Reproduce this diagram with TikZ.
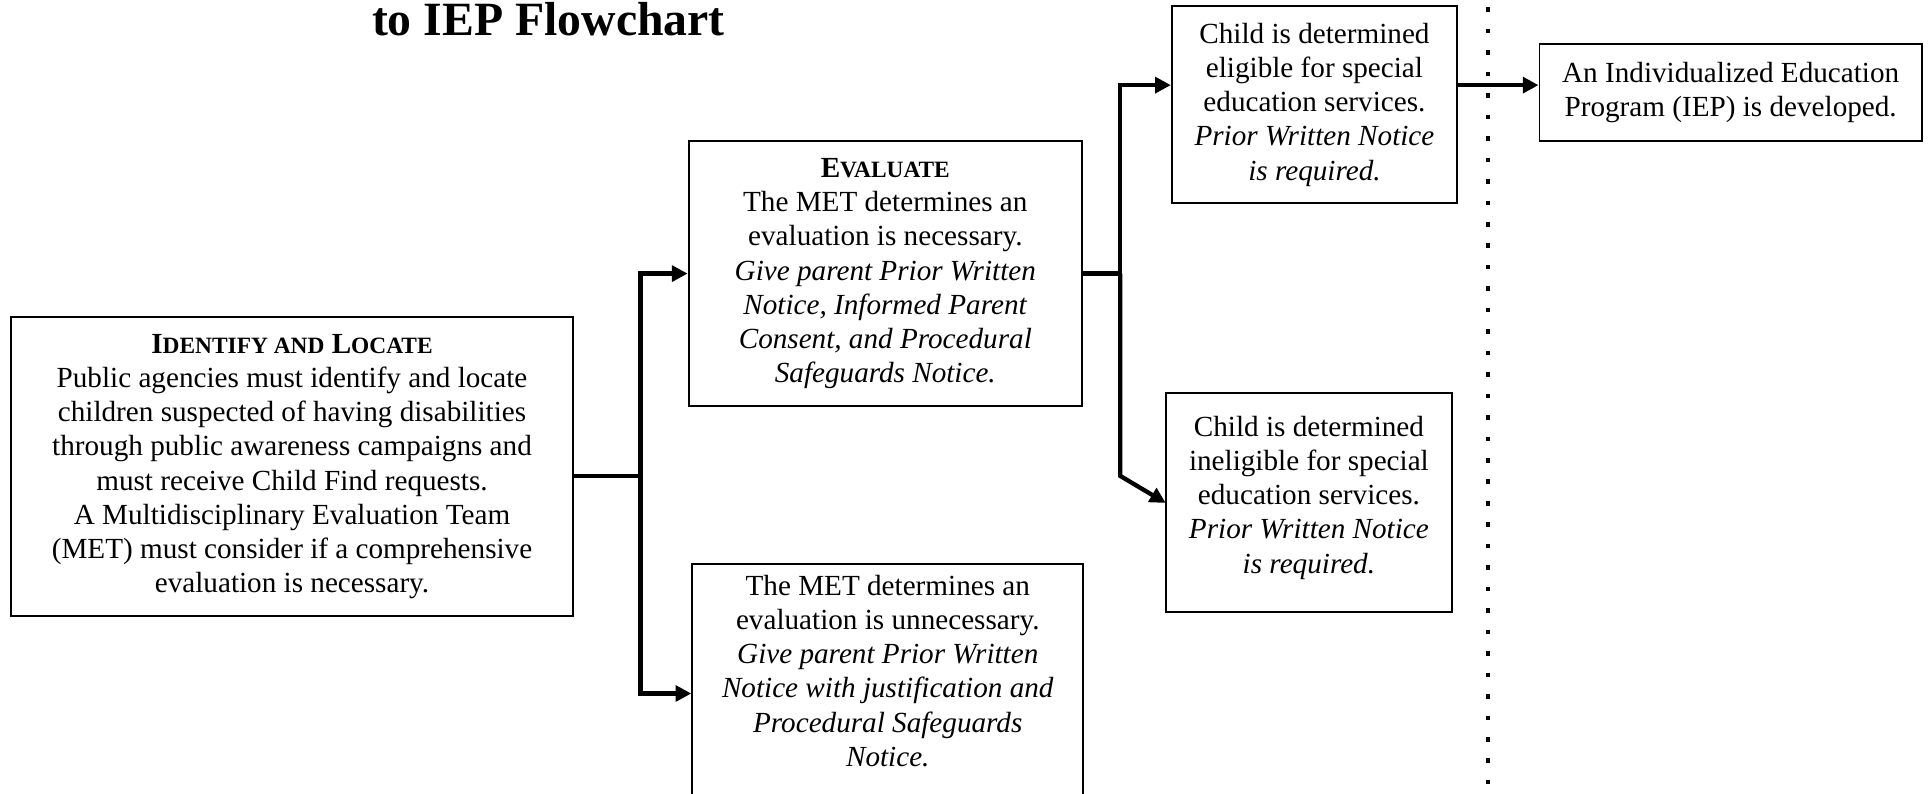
\documentclass[tikz,border=0pt]{standalone}
\usepackage{fontspec}
\setmainfont{Liberation Serif}
\usetikzlibrary{arrows.meta,calc}
\newcommand\fsc[1]{{\fontsize{9.7}{12}\selectfont #1}}
\begin{document}
\begin{tikzpicture}[x=0.51pt,y=-0.51pt,
  box/.style={draw,line width=0.8pt,align=center,inner sep=2pt,font=\fontsize{12.1}{14.2}\selectfont},
  conn/.style={line width=1.8pt},
  arr/.style={line width=1.8pt,-{Triangle[length=6.5pt,width=6.5pt]}},
  dotline/.style={line width=1.9pt,dash pattern=on 1.9pt off 7pt}]
\useasboundingbox (0,0) rectangle (1568,645);

\node[font=\fontsize{19.8}{22}\selectfont\bfseries,anchor=base] (title) at (446,29) {to IEP Flowchart};

\node[box,minimum width=233.1pt,minimum height=123.9pt] (id) at (237.5,379.5)
 {\textbf{I\fsc{DENTIFY AND} L\fsc{OCATE}}\\
  Public agencies must identify and locate\\
  children suspected of having disabilities\\
  through public awareness campaigns and\\
  must receive Child Find requests.\\
  A Multidisciplinary Evaluation Team\\
  (MET) must consider if a comprehensive\\
  evaluation is necessary.};

\node[box,minimum width=163.2pt,minimum height=109.7pt] (ev) at (720,222.5)
 {\textbf{E\fsc{VALUATE}}\\
  The MET determines an\\
  evaluation is necessary.\\
  \textit{Give parent Prior Written}\\
  \textit{Notice, Informed Parent}\\
  \textit{Consent, and Procedural}\\
  \textit{Safeguards Notice.}};

\node[box,anchor=north,minimum width=162.2pt,inner ysep=4.5pt,text depth=30pt] (un) at (722,458)
 {The MET determines an\\
  evaluation is unnecessary.\\
  \textit{Give parent Prior Written}\\
  \textit{Notice with justification and}\\
  \textit{Procedural Safeguards}\\
  \textit{Notice.}};

\node[box,minimum width=118.3pt,minimum height=81.6pt] (el) at (1069,85)
 {Child is determined\\
  eligible for special\\
  education services.\\
  \textit{Prior Written Notice}\\
  \textit{is required.}};

\node[box,minimum width=118.8pt,minimum height=90.8pt,text depth=7pt] (in) at (1064.5,409)
 {Child is determined\\
  ineligible for special\\
  education services.\\
  \textit{Prior Written Notice}\\
  \textit{is required.}};

\node[box,minimum width=158.6pt,minimum height=40.3pt] (iep) at (1407.5,75.5)
 {An Individualized Education\\
  Program (IEP) is developed.};

% connectors
\coordinate (j1) at (521,387);
\coordinate (unin) at ($(un.north west)+(0,106)$);
\draw[conn] (id.east |- j1) -- (j1);
\draw[arr] (j1) |- (ev.west);
\draw[arr] (j1) |- (unin);

\coordinate (j2) at (911,222.5);
\coordinate (j3) at (911,387);
\coordinate (elin) at ($(el.north west)+(0,65)$);
\coordinate (elout) at ($(el.north east)+(0,65)$);
\coordinate (inin) at (948,409);
\draw[conn] (ev.east) -- (j2);
\draw[arr] (j3) -- (j2) |- (elin);
\draw[arr] (j2) -- (j3) -- (inin);
\draw[arr] (elout) -- (iep.west |- elout);

% dotted divider
\coordinate (dtop) at (1210,6);
\coordinate (dbot) at (1210,645);
\draw[dotline] (dtop) -- (dbot);
\end{tikzpicture}
\end{document}
